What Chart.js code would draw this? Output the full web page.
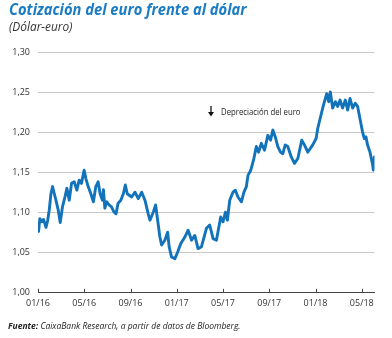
<!DOCTYPE html>
<html>
<head>
<meta charset="utf-8">
<script src="https://cdn.jsdelivr.net/npm/chart.js@4/dist/chart.umd.min.js"></script>
<style>
  html, body { margin: 0; padding: 0; background: #fff; }
  #wrap { position: relative; width: 392px; height: 338px; overflow: hidden; background: #fff; }
  #c { position: absolute; left: 0; top: 0; }
  .txt { position: absolute; white-space: nowrap; transform-origin: 0 0; font-family: "Open Sans", sans-serif; }
  #title { left: 9px; top: 1px; font-size: 16.5px; line-height: 16px; font-weight: 700; font-style: italic; color: #1a7cc4; }
  #subtitle { left: 9px; top: 20.5px; font-size: 12px; line-height: 12px; font-style: italic; color: #333; }
  #footer { left: 7.5px; top: 320.5px; font-size: 9px; line-height: 9px; font-style: italic; color: #222; }
  #note { left: 220.5px; top: 107px; font-size: 9px; line-height: 9px; color: #222; }
  #arrow { position: absolute; left: 207px; top: 105px; }
</style>
</head>
<body>
<div id="wrap">
  <canvas id="c" width="392" height="338"></canvas>
  <div class="txt" id="title" data-w="237.5">Cotización del euro frente al dólar</div>
  <div class="txt" id="subtitle" data-w="63.5">(Dólar-euro)</div>
  <div class="txt" id="note" data-w="79.5">Depreciación del euro</div>
  <svg id="arrow" width="8" height="12" viewBox="0 0 8 12">
    <line x1="4" y1="1" x2="4" y2="8" stroke="#111" stroke-width="1.3"/>
    <polygon points="1,7 7,7 4,11.5" fill="#111"/>
  </svg>
  <div class="txt" id="footer" data-w="232.5"><b>Fuente:</b> CaixaBank Research, a partir de datos de Bloomberg.</div>
</div>
<script>
// ---- data ----
// x position: months elapsed since 1 Jan 2016
const months = [
  0.00, 0.05, 0.16, 0.33, 0.48, 0.69, 0.83, 0.97, 1.12, 1.26, 1.41, 1.55, 1.75, 1.92,
  2.12, 2.33, 2.50, 2.70, 2.90, 3.13, 3.36, 3.56, 3.76, 3.99, 4.14, 4.34, 4.57, 4.79,
  5.00, 5.20, 5.37, 5.57, 5.66, 5.78, 5.95, 6.15, 6.34, 6.58, 6.75, 6.92, 7.16, 7.38,
  7.55, 7.72, 8.10, 8.39, 8.67, 8.97, 9.25, 9.53, 9.68, 9.97, 10.17, 10.31, 10.54, 10.69,
  10.97, 11.21, 11.34, 11.55, 11.84, 12.07, 12.35, 12.70, 12.98, 13.28, 13.56, 13.84, 14.14,
  14.57, 14.85, 15.14, 15.43, 15.80, 16.00, 16.21, 16.38, 16.58, 16.86, 17.07, 17.29, 17.59,
  17.81, 18.02, 18.16, 18.39, 18.67, 18.88, 19.08, 19.31, 19.59, 19.88, 20.11, 20.31, 20.52,
  20.74, 20.97, 21.17, 21.38, 21.60, 21.90, 22.18, 22.47, 22.81, 23.04, 23.33, 23.47, 23.76,
  24.05, 24.19, 24.40, 24.62, 24.77, 24.97, 25.14, 25.28, 25.48, 25.72, 25.91, 26.12, 26.34,
  26.58, 26.78, 26.98, 27.21, 27.44, 27.64, 27.84, 28.07, 28.22, 28.36, 28.50, 28.71, 28.94,
  29.00, 29.09
];
const eurusd = [
  1.086, 1.076, 1.092, 1.088, 1.091, 1.081, 1.089, 1.1025, 1.123, 1.132, 1.123, 1.115, 1.1025, 1.087,
  1.107, 1.119, 1.130, 1.115, 1.136, 1.138, 1.1275, 1.140, 1.136, 1.1525, 1.142, 1.132, 1.123, 1.113,
  1.132, 1.138, 1.123, 1.115, 1.128, 1.105, 1.113, 1.109, 1.107, 1.100, 1.098, 1.111, 1.115, 1.123,
  1.134, 1.123, 1.119, 1.125, 1.117, 1.125, 1.115, 1.098, 1.090, 1.100, 1.109, 1.094, 1.069, 1.059,
  1.065, 1.075, 1.057, 1.044, 1.042, 1.050, 1.061, 1.069, 1.0775, 1.065, 1.071, 1.0545, 1.057,
  1.080, 1.084, 1.067, 1.065, 1.094, 1.088, 1.100, 1.090, 1.115, 1.125, 1.1275, 1.119, 1.113,
  1.125, 1.132, 1.146, 1.152, 1.167, 1.182, 1.175, 1.186, 1.1775, 1.196, 1.190, 1.2025, 1.194,
  1.182, 1.175, 1.173, 1.184, 1.182, 1.169, 1.161, 1.167, 1.190, 1.184, 1.175, 1.178, 1.184,
  1.192, 1.2045, 1.217, 1.230, 1.238, 1.248, 1.238, 1.250, 1.230, 1.238, 1.232, 1.240, 1.230,
  1.240, 1.2275, 1.242, 1.230, 1.236, 1.232, 1.217, 1.200, 1.192, 1.194, 1.184, 1.175, 1.159,
  1.1525, 1.169
];
const xTickLabels = ['01/16', '05/16', '09/16', '01/17', '05/17', '09/17', '01/18', '05/18'];
const monthsPerTick = 4;
const yMin = 1.00, yMax = 1.30, yStep = 0.05;

// ---- fit text widths ----
document.querySelectorAll('.txt[data-w]').forEach(el => {
  const w = el.getBoundingClientRect().width;
  const target = parseFloat(el.dataset.w);
  el.style.transform = 'scaleX(' + (target / w) + ')';
});

const tickFont = { family: 'Open Sans', size: 9 };

const upTicks = {
  id: 'upTicks',
  afterDatasetsDraw(chart) {
    const x = chart.scales.x, ctx = chart.ctx, bottom = chart.chartArea.bottom;
    ctx.save();
    ctx.strokeStyle = '#444';
    ctx.lineWidth = 1;
    x.ticks.forEach((t, i) => {
      const px = Math.round(x.getPixelForTick(i)) + 0.5;
      ctx.beginPath();
      ctx.moveTo(px, bottom);
      ctx.lineTo(px, bottom - 3.5);
      ctx.stroke();
    });
    ctx.restore();
  }
};

new Chart(document.getElementById('c'), {
  type: 'line',
  data: {
    datasets: [{
      data: months.map((m, i) => ({ x: m, y: eurusd[i] })),
      borderColor: '#1273bb',
      borderWidth: 2.9,
      pointRadius: 0,
      tension: 0,
      borderJoinStyle: 'round',
      borderCapStyle: 'round'
    }]
  },
  options: {
    responsive: false,
    animation: false,
    devicePixelRatio: 1,
    layout: { padding: { left: 0, right: 17.5, top: 52, bottom: 0 } },
    plugins: { legend: { display: false }, tooltip: { enabled: false } },
    scales: {
      x: {
        type: 'linear',
        min: 0,
        max: 29.1,
        afterBuildTicks(scale) {
          scale.ticks = xTickLabels.map((_, i) => ({ value: i * monthsPerTick }));
        },
        afterFit(scale) { scale.height = 45.7; },
        ticks: {
          autoSkip: false,
          maxRotation: 0,
          padding: 6,
          color: '#333',
          font: tickFont,
          callback: (v) => xTickLabels[Math.round(v / monthsPerTick)]
        },
        grid: { display: false, drawTicks: false },
        border: { display: true, color: '#444', width: 1 }
      },
      y: {
        min: yMin,
        max: yMax,
        afterFit(scale) { scale.width = 38; },
        ticks: {
          stepSize: yStep,
          padding: 8,
          color: '#333',
          font: tickFont,
          callback: (v) => v.toFixed(2).replace('.', ',')
        },
        grid: { color: '#c9c9c9', lineWidth: 1, drawTicks: false },
        border: { display: false }
      }
    }
  },
  plugins: [upTicks]
});
</script>
</body>
</html>
